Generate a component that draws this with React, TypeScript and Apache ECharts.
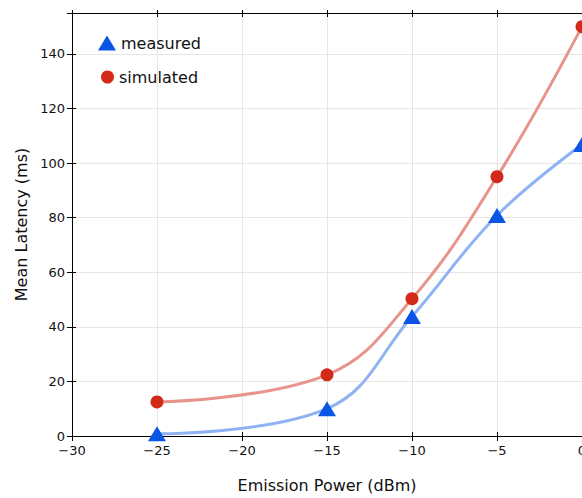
import React, { useEffect, useRef } from "react";
import * as echarts from "echarts";

const powerDbm = [-25, -15, -10, -5, 0];
const measured = [0.8, 10, 43.8, 80.8, 106.8];
const simulated = [12.5, 22.4, 50.3, 95, 150];
const xTicks = [-30, -25, -20, -15, -10, -5, 0];
const yTicks = [0, 20, 40, 60, 80, 100, 120, 140];

const FONT = "DejaVu Sans";

export default function App() {
  const ref = useRef<HTMLDivElement>(null);
  useEffect(() => {
    if (!ref.current) return;
    const chart = echarts.init(ref.current, undefined, { renderer: "svg" });
    const xBase = { type: "value", min: -30, max: 0, interval: 5, gridIndex: 0 };
    const yBase = { type: "value", min: 0, max: 155, interval: 20, gridIndex: 0 };
    const fmtX = (v: number) => (xTicks.includes(v) ? String(v).replace("-", "\u2212") : "");
    const fmtY = (v: number) => (yTicks.includes(v) ? String(v) : "");
    chart.setOption({
      animation: false,
      backgroundColor: "#ffffff",
      textStyle: { fontFamily: FONT },
      grid: { left: 72, top: 13, right: 58, bottom: 62, containLabel: false },
      legend: [
        {
          data: [{ name: "measured", icon: "triangle" }],
          left: 98,
          top: 35,
          padding: 0,
          itemWidth: 18,
          itemHeight: 15,
          itemStyle: { borderWidth: 0 },
          textStyle: { fontFamily: FONT, fontSize: 16, color: "#111" },
          selectedMode: false,
        },
        {
          data: [{ name: "simulated", icon: "circle" }],
          left: 101,
          top: 69,
          padding: 0,
          itemWidth: 13,
          itemHeight: 13,
          itemStyle: { borderWidth: 0 },
          textStyle: { fontFamily: FONT, fontSize: 16, color: "#111" },
          selectedMode: false,
        },
      ],
      xAxis: [
        {
          ...xBase,
          position: "bottom",
          name: "Emission Power (dBm)",
          nameLocation: "middle",
          nameGap: 41,
          nameTextStyle: { fontFamily: FONT, fontSize: 16, color: "#111" },
          axisLine: { show: true, onZero: false, lineStyle: { color: "#000", width: 1 } },
          axisTick: { show: true, inside: false, length: 5, lineStyle: { color: "#000" } },
          axisLabel: { formatter: fmtX, fontFamily: FONT, fontSize: 13, color: "#111", margin: 8 },
          splitLine: { show: true, lineStyle: { color: "#e6e6e6", width: 1 } },
        },
        {
          ...xBase,
          position: "bottom",
          axisLine: { show: false, onZero: false },
          axisTick: { show: true, inside: true, length: 4, lineStyle: { color: "#000" } },
          axisLabel: { show: false },
          splitLine: { show: false },
        },
        {
          ...xBase,
          position: "top",
          axisLine: { show: true, onZero: false, lineStyle: { color: "#000", width: 1 } },
          axisTick: { show: true, inside: true, length: 4, lineStyle: { color: "#000" } },
          axisLabel: { show: false },
          splitLine: { show: false },
        },
        {
          ...xBase,
          position: "top",
          axisLine: { show: false, onZero: false },
          axisTick: { show: true, inside: false, length: 3, lineStyle: { color: "#000" } },
          axisLabel: { show: false },
          splitLine: { show: false },
        },
      ],
      yAxis: [
        {
          ...yBase,
          position: "left",
          name: "Mean Latency (ms)",
          nameLocation: "middle",
          nameGap: 42,
          nameTextStyle: { fontFamily: FONT, fontSize: 16, color: "#111" },
          axisLine: { show: true, onZero: false, lineStyle: { color: "#000", width: 1 } },
          axisTick: { show: true, inside: false, length: 5, lineStyle: { color: "#000" } },
          axisLabel: { formatter: fmtY, fontFamily: FONT, fontSize: 13, color: "#111", margin: 7 },
          splitLine: { show: true, lineStyle: { color: "#e6e6e6", width: 1 } },
        },
        {
          ...yBase,
          position: "left",
          axisLine: { show: false, onZero: false },
          axisTick: { show: true, inside: true, length: 4, lineStyle: { color: "#000" } },
          axisLabel: { show: false },
          splitLine: { show: false },
        },
      ],
      series: [
        {
          name: "measured",
          type: "line",
          xAxisIndex: 0,
          yAxisIndex: 0,
          data: powerDbm.map((x, i) => [x, measured[i]]),
          smooth: 0.4,
          symbol: "triangle",
          symbolSize: [18, 15],
          itemStyle: { color: "#0a55e6", borderWidth: 0 },
          lineStyle: { color: "#8fb3f2", width: 3 },
          z: 3,
        },
        {
          name: "simulated",
          type: "line",
          xAxisIndex: 0,
          yAxisIndex: 0,
          data: powerDbm.map((x, i) => [x, simulated[i]]),
          smooth: 0.4,
          symbol: "circle",
          symbolSize: 13,
          itemStyle: { color: "#d22a18", borderWidth: 0 },
          lineStyle: { color: "#e8948c", width: 3 },
          z: 3,
        },
      ],
    });
    return () => chart.dispose();
  }, []);
  return (
    <div style={{ position: "fixed", left: 0, top: 0, width: 582, height: 498, overflow: "hidden", background: "#fff" }}>
      <div ref={ref} style={{ width: 640, height: 498 }} />
    </div>
  );
}
